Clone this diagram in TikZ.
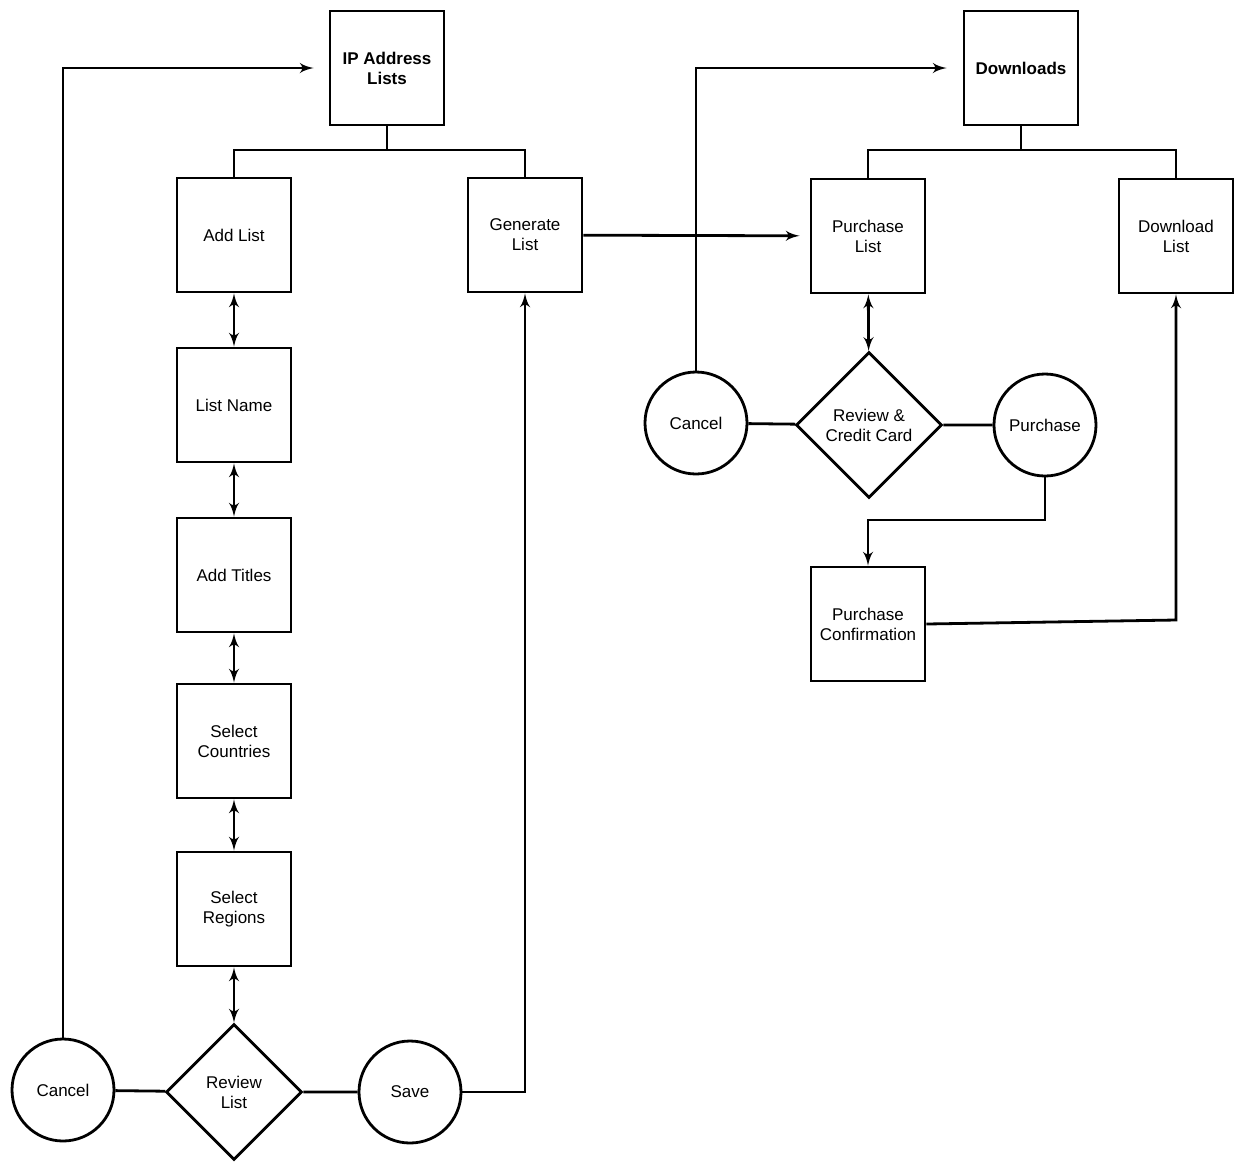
\documentclass[tikz,border=0pt]{standalone}
\usepackage{fontspec}
\setmainfont{Liberation Sans}
\usetikzlibrary{positioning,arrows,calc,shapes.geometric}
\tikzset{
    block/.style = {
        draw,
        shape=rectangle,
        minimum height=57pt,
        minimum width=57pt,
        align=center,
        line width=1.4pt,
        font=\fontsize{8.5}{10}\selectfont
    },
    decide/.style = {
        draw,
        shape=diamond,
        minimum height=68pt,
        minimum width=68pt,
        align=center,
        inner sep=0pt,
        line width=1.4pt,
        font=\fontsize{8.5}{10}\selectfont
    },
    term/.style = {
        draw,
        shape=circle,
        minimum size=51pt,
        align=center,
        inner sep=0pt,
        line width=1.4pt,
        font=\fontsize{8.5}{10}\selectfont
    },
    link/.style = {line width=1.4pt},
    >=latex',
}
\begin{document}
\begin{tikzpicture}[x=0.5pt,y=-0.5pt]
                \useasboundingbox (0,0) rectangle (1244,1164);
                \node[block, font=\fontsize{8.5}{10}\selectfont\bfseries] (ipl) at (387,68) {IP Address\\Lists};
                \node[block] (addl) at (234,235) {Add List};
                \node[block] (name) at (234,405) {List Name};
                \node[block] (titl) at (234,575) {Add Titles};
                \node[block] (ctry) at (234,741) {Select\\Countries};
                \node[block] (regn) at (234,909) {Select\\Regions};
                \node[decide] (revl) at (234,1092) {Review\\List};
                \node[term] (canl) at (63,1090) {Cancel};
                \node[term] (save) at (410,1092) {Save};
                \node[block] (genl) at (525,235) {Generate\\List};

                \node[block, font=\fontsize{8.5}{10}\selectfont\bfseries] (down) at (1021,68) {Downloads};
                \node[block] (purl) at (868,236) {Purchase\\List};
                \node[block] (dnll) at (1176,236) {Download\\List};
                \node[decide, minimum height=73pt, minimum width=73pt] (revc) at (869,425) {Review \&\\Credit Card};
                \node[term] (canr) at (696,423) {Cancel};
                \node[term] (purc) at (1045,425) {Purchase};
                \node[block] (conf) at (868,624) {Purchase\\Confirmation};

                \coordinate (ipj) at (387,150);
                \coordinate (dnj) at (1021,150);

                \path[draw, link] (ipl) -- (ipj);
                \path[draw, link] (addl) |- (ipj) -| (genl);
                \path[draw, link] (down) -- (dnj);
                \path[draw, link] (purl) |- (dnj) -| (dnll);

                \path[draw, link, <->] (addl) -- (name);
                \path[draw, link, <->] (name) -- (titl);
                \path[draw, link, <->] (titl) -- (ctry);
                \path[draw, link, <->] (ctry) -- (regn);
                \path[draw, link, <->] (regn) -- (revl);

                \path[draw, link] (canl) -- (revl) -- (save);
                \path[draw, link, ->] (save) -| (genl);
                \path[draw, link, ->, shorten >=15pt/2] (canl) |- (ipl);
                \path[draw, link, ->, shorten >=5pt] (genl) -- (purl);

                \path[draw, link, <->] (purl) -- (revc);
                \path[draw, link] (canr) -- (revc) -- (purc);
                \path[draw, link, ->, shorten >=8pt] (canr) |- (down);
                \path[draw, link, ->] (purc) |- (868,520) -- (conf);
                \path[draw, link, ->] (conf.east) -- (1176,620) -- (dnll);
\end{tikzpicture}
\end{document}
